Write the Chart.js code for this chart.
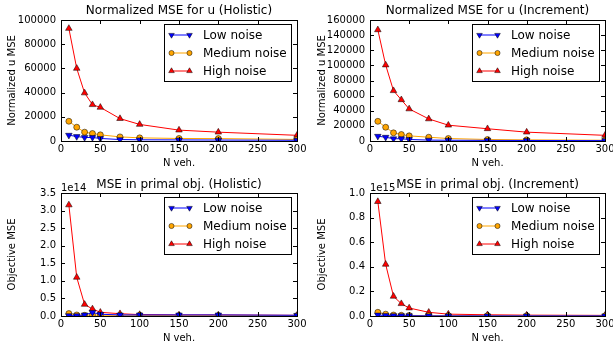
<!DOCTYPE html>
<html><head><meta charset="utf-8">
<script src="https://cdn.jsdelivr.net/npm/chart.js@4/dist/chart.umd.min.js"></script>
<style>
html,body{margin:0;padding:0;width:613px;height:349px;overflow:hidden;background:#fff;position:relative;}
.c{position:absolute;}
</style></head><body>
<div class="c" style="left:0;top:0;width:310px;height:175px"><canvas id="c1"></canvas></div>
<div class="c" style="left:305px;top:0;width:320px;height:175px"><canvas id="c2"></canvas></div>
<div class="c" style="left:0;top:175px;width:310px;height:174px"><canvas id="c3"></canvas></div>
<div class="c" style="left:305px;top:175px;width:320px;height:174px"><canvas id="c4"></canvas></div>
<script>
// ---- data ----
const nVeh = [10, 20, 30, 40, 50, 75, 100, 150, 200, 300];
const seriesNames = ['Low noise', 'Medium noise', 'High noise'];

const uHolLow  = [4800, 3700, 2900, 2900, 2100, 1200, 1000, 900, 800, 600];
const uHolMed  = [16300, 11400, 7300, 6200, 5100, 3400, 2600, 2100, 2000, 1300];
const uHolHigh = [93000, 60000, 39700, 30000, 27800, 18500, 13700, 9000, 7300, 4700];

const uIncLow  = [6300, 5000, 3000, 3000, 2000, 1200, 1000, 800, 700, 500];
const uIncMed  = [26000, 18200, 10800, 8600, 6800, 5000, 3300, 2000, 1500, 1000];
const uIncHigh = [147000, 100500, 66500, 54500, 42400, 29200, 20900, 16200, 11700, 7500];

const objHolLow  = [0.01e14, 0.01e14, 0.03e14, 0.10e14, 0.05e14, 0.03e14, 0.03e14, 0.03e14, 0.03e14, 0.02e14];
const objHolMed  = [0.07e14, 0.03e14, 0.02e14, 0.03e14, 0.02e14, 0.02e14, 0.02e14, 0.01e14, 0.01e14, 0.01e14];
const objHolHigh = [3.16e14, 1.10e14, 0.33e14, 0.20e14, 0.105e14, 0.065e14, 0.04e14, 0.03e14, 0.03e14, 0.02e14];

const objIncLow  = [0.008e15, 0.004e15, 0.003e15, 0.002e15, 0.002e15, 0.001e15, 0.001e15, 0.001e15, 0.001e15, 0.001e15];
const objIncMed  = [0.03e15, 0.015e15, 0.008e15, 0.006e15, 0.005e15, 0.003e15, 0.002e15, 0.002e15, 0.001e15, 0.001e15];
const objIncHigh = [0.93e15, 0.42e15, 0.16e15, 0.10e15, 0.065e15, 0.03e15, 0.015e15, 0.01e15, 0.007e15, 0.005e15];

const titles = ['Normalized MSE for u (Holistic)', 'Normalized MSE for u (Increment)',
                'MSE in primal obj. (Holistic)', 'MSE in primal obj. (Increment)'];
const yTitles = ['Normalized u MSE', 'Normalized u MSE', 'Objective MSE', 'Objective MSE'];
const xTitle = 'N veh.';
const yMax = [100000, 160000, 3.5e14, 1.0e15];
const yStep = [20000, 20000, 0.5e14, 0.2e15];
const yExp = [null, null, 14, 15];

// ---- styling ----
const FONT = "'DejaVu Sans', sans-serif";
const styles = [
  {color: '#0000ff', pointStyle: 'triangle', rotation: 180, radius: 3.8},
  {color: '#ffa500', pointStyle: 'circle', rotation: 0, radius: 3},
  {color: '#ff0000', pointStyle: 'triangle', rotation: 0, radius: 3.8}
];

const mplPlugin = {
  id: 'mpl',
  afterDraw(chart, args, opts) {
    const ctx = chart.ctx, a = chart.chartArea;
    const xs = chart.scales.x, ys = chart.scales.y;
    ctx.save();
    // ticks inward
    ctx.strokeStyle = '#000'; ctx.lineWidth = 1;
    ctx.beginPath();
    xs.ticks.forEach(t => {
      const px = Math.round(xs.getPixelForValue(t.value)) + 0.5;
      ctx.moveTo(px, a.bottom); ctx.lineTo(px, a.bottom - 4);
      ctx.moveTo(px, a.top); ctx.lineTo(px, a.top + 4);
    });
    ys.ticks.forEach(t => {
      const py = Math.round(ys.getPixelForValue(t.value)) + 0.5;
      ctx.moveTo(a.left, py); ctx.lineTo(a.left + 4, py);
      ctx.moveTo(a.right, py); ctx.lineTo(a.right - 4, py);
    });
    ctx.stroke();
    // frame
    ctx.strokeRect(Math.round(a.left) + 0.5, Math.round(a.top) + 0.5,
                   Math.round(a.right - a.left), Math.round(a.bottom - a.top));
    // offset text
    if (opts.exp) {
      ctx.fillStyle = '#000';
      ctx.font = '10px ' + FONT;
      ctx.textAlign = 'left'; ctx.textBaseline = 'alphabetic';
      ctx.fillText('1e' + opts.exp, a.left, a.top - 2);
    }
    // legend
    const bw = 127, bh = 57;
    const bx = Math.round(a.right - 6 - bw) + 0.5, by = Math.round(a.top + 4) + 0.5;
    ctx.fillStyle = '#fff';
    ctx.fillRect(bx, by, bw, bh);
    ctx.strokeStyle = '#000'; ctx.lineWidth = 1;
    ctx.strokeRect(bx, by, bw, bh);
    chart.data.datasets.forEach((ds, i) => {
      const y = by + 10.5 + i * 18;
      const x0 = bx + 7, x1 = bx + 25;
      ctx.strokeStyle = ds.borderColor; ctx.lineWidth = 1;
      ctx.beginPath(); ctx.moveTo(x0, y); ctx.lineTo(x1, y); ctx.stroke();
      [x0, x1].forEach(px => {
        ctx.fillStyle = ds.pointBackgroundColor;
        ctx.strokeStyle = '#000'; ctx.lineWidth = 0.5;
        Chart.helpers.drawPoint(ctx, {pointStyle: ds.pointStyle, rotation: ds.pointRotation,
          radius: ds.pointRadius * 0.85, borderWidth: 0.5}, px, y);
      });
      ctx.fillStyle = '#000';
      ctx.font = '12px ' + FONT;
      ctx.textAlign = 'left'; ctx.textBaseline = 'middle';
      ctx.fillText(ds.label, bx + 38.5, y + 0.5);
    });
    ctx.restore();
  }
};

function makeChart(id, idx, low, med, high, isRight, isBottom) {
  const sets = [low, med, high].map((vals, i) => ({
    label: seriesNames[i],
    data: nVeh.map((x, j) => ({x: x, y: vals[j]})),
    borderColor: styles[i].color,
    backgroundColor: styles[i].color,
    pointBackgroundColor: styles[i].color,
    pointBorderColor: '#000',
    pointBorderWidth: 0.5,
    pointStyle: styles[i].pointStyle,
    pointRotation: styles[i].rotation,
    pointRadius: styles[i].radius,
    borderWidth: 1,
    tension: 0,
    clip: 0
  }));
  const xH = isBottom ? 33 : 34;
  return new Chart(document.getElementById(id), {
    type: 'line',
    data: {datasets: sets},
    plugins: [mplPlugin],
    options: {
      responsive: true, maintainAspectRatio: false, animation: false,
      devicePixelRatio: 1,
      layout: {padding: {left: 0, right: isRight ? 20 : 13, top: 0, bottom: 0}},
      plugins: {
        legend: {display: false}, tooltip: {enabled: false},
        title: {display: true, text: titles[idx], fullSize: false, color: '#000',
          font: {family: FONT, size: 12, weight: 'normal', lineHeight: 1.2},
          padding: isBottom ? {top: 2.5, bottom: 1.1} : {top: 3.8, bottom: 1.8}},
        mpl: {exp: yExp[idx]}
      },
      scales: {
        x: {type: 'linear', min: 0, max: 300,
          ticks: {stepSize: 50, color: '#000', padding: 2, maxRotation: 0,
            font: {family: FONT, size: 10}},
          grid: {display: false, drawTicks: false},
          border: {display: false},
          title: {display: true, text: xTitle, color: '#000',
            font: {family: FONT, size: 10}, padding: {top: 0, bottom: isBottom ? 5 : 6}},
          afterFit: s => { s.height = xH; }
        },
        y: {type: 'linear', min: 0, max: yMax[idx],
          ticks: {stepSize: yStep[idx], color: '#000', padding: 5,
            font: {family: FONT, size: 10},
            callback: v => yExp[idx] ? (v / Math.pow(10, yExp[idx])).toFixed(1) : String(v)},
          grid: {display: false, drawTicks: false},
          border: {display: false},
          title: {display: true, text: yTitles[idx], color: '#000',
            font: {family: FONT, size: 10}, padding: {top: isRight ? 11 : 6.5, bottom: 0}},
          afterFit: s => { s.width = isRight ? 65 : 61; }
        }
      }
    }
  });
}

makeChart('c1', 0, uHolLow, uHolMed, uHolHigh, false, false);
makeChart('c2', 1, uIncLow, uIncMed, uIncHigh, true, false);
makeChart('c3', 2, objHolLow, objHolMed, objHolHigh, false, true);
makeChart('c4', 3, objIncLow, objIncMed, objIncHigh, true, true);
</script>
</body></html>
